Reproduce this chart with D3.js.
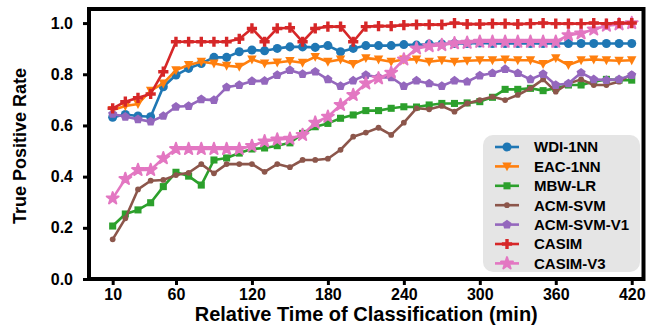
<!DOCTYPE html>
<html>
<head>
<meta charset="utf-8">
<script src="https://cdn.jsdelivr.net/npm/d3@7"></script>
<style>
  html, body { margin: 0; padding: 0; background: #fff; }
  svg { display: block; font-family: "Liberation Sans", Arial, sans-serif; }
</style>
</head>
<body>
<svg id="chart" width="649" height="331"></svg>
<script>
// Relative time of classification (minutes)
const times = d3.range(10, 421, 10);
const xTicks = [10, 60, 120, 180, 240, 300, 360, 420];
const yTicks = [0, 0.2, 0.4, 0.6, 0.8, 1.0];

const wdi1nn = [0.632, 0.643, 0.637, 0.634, 0.751, 0.797, 0.823, 0.842, 0.866, 0.866,
  0.888, 0.895, 0.892, 0.901, 0.907, 0.907, 0.905, 0.912, 0.888, 0.901,
  0.912, 0.912, 0.912, 0.916, 0.914, 0.918, 0.918, 0.920, 0.920, 0.922,
  0.920, 0.920, 0.920, 0.920, 0.920, 0.920, 0.920, 0.920, 0.920, 0.920, 0.920, 0.920];
const eac1nn = [0.660, 0.676, 0.684, 0.736, 0.764, 0.816, 0.836, 0.849, 0.842, 0.833,
  0.829, 0.858, 0.842, 0.846, 0.852, 0.845, 0.868, 0.849, 0.858, 0.840,
  0.863, 0.858, 0.849, 0.858, 0.858, 0.849, 0.855, 0.849, 0.853, 0.855,
  0.855, 0.858, 0.855, 0.855, 0.840, 0.863, 0.836, 0.855, 0.858, 0.855, 0.853, 0.855];
const mbwLr = [0.207, 0.254, 0.270, 0.298, 0.361, 0.417, 0.402, 0.367, 0.465, 0.473,
  0.492, 0.508, 0.512, 0.521, 0.532, 0.569, 0.595, 0.608, 0.628, 0.641,
  0.658, 0.658, 0.667, 0.673, 0.672, 0.680, 0.686, 0.686, 0.688, 0.693,
  0.710, 0.741, 0.741, 0.745, 0.736, 0.745, 0.758, 0.758, 0.771, 0.780, 0.777, 0.777];
const acmSvm = [0.155, 0.237, 0.350, 0.384, 0.387, 0.406, 0.415, 0.449, 0.413, 0.449,
  0.449, 0.449, 0.419, 0.449, 0.437, 0.465, 0.465, 0.470, 0.505, 0.556,
  0.572, 0.591, 0.563, 0.611, 0.667, 0.663, 0.676, 0.654, 0.686, 0.699,
  0.712, 0.699, 0.719, 0.745, 0.780, 0.732, 0.764, 0.780, 0.758, 0.758, 0.771, 0.801];
const acmSvmV1 = [0.645, 0.634, 0.624, 0.615, 0.637, 0.673, 0.676, 0.702, 0.699, 0.749,
  0.758, 0.773, 0.774, 0.797, 0.816, 0.801, 0.810, 0.780, 0.754, 0.775,
  0.797, 0.788, 0.788, 0.754, 0.775, 0.764, 0.754, 0.775, 0.771, 0.795,
  0.804, 0.820, 0.804, 0.780, 0.801, 0.758, 0.764, 0.806, 0.780, 0.777, 0.780, 0.797];
const casim = [0.667, 0.693, 0.708, 0.723, 0.810, 0.927, 0.927, 0.927, 0.927, 0.927,
  0.938, 0.979, 0.927, 0.979, 0.982, 0.927, 0.979, 0.986, 0.986, 0.927,
  0.986, 0.988, 0.988, 0.992, 0.994, 0.994, 0.994, 1.000, 0.996, 0.996,
  0.998, 0.998, 0.996, 0.998, 1.000, 0.998, 0.998, 0.998, 1.000, 0.998, 1.000, 1.000];
const casimV3 = [0.315, 0.391, 0.426, 0.426, 0.472, 0.508, 0.508, 0.508, 0.508, 0.508,
  0.508, 0.520, 0.538, 0.545, 0.548, 0.563, 0.611, 0.634, 0.680, 0.719,
  0.764, 0.784, 0.806, 0.858, 0.901, 0.910, 0.914, 0.921, 0.923, 0.927,
  0.927, 0.927, 0.927, 0.927, 0.927, 0.927, 0.953, 0.960, 0.975, 0.990, 0.995, 1.000];

const seriesNames = ["WDI-1NN", "EAC-1NN", "MBW-LR", "ACM-SVM", "ACM-SVM-V1", "CASIM", "CASIM-V3"];
const seriesValues = [wdi1nn, eac1nn, mbwLr, acmSvm, acmSvmV1, casim, casimV3];
const seriesColors = ["#1f77b4", "#ff7f0e", "#2ca02c", "#8c564b", "#9467bd", "#d62728", "#e377c2"];

// Custom marker shapes
const triangleDown = {
  draw(ctx, size) {
    const r = Math.sqrt(size) * 0.62;
    ctx.moveTo(-r * 0.95, -r * 0.8);
    ctx.lineTo(r * 0.95, -r * 0.8);
    ctx.lineTo(0, r * 1.0);
    ctx.closePath();
  }
};
const pentagon = {
  draw(ctx, size) {
    const r = Math.sqrt(size) * 0.6;
    for (let i = 0; i < 5; i++) {
      const a = -Math.PI / 2 + i * 2 * Math.PI / 5;
      const px = r * Math.cos(a), py = r * Math.sin(a);
      if (i === 0) ctx.moveTo(px, py); else ctx.lineTo(px, py);
    }
    ctx.closePath();
  }
};
const seriesSymbols = [
  d3.symbol(d3.symbolCircle, 64),
  d3.symbol(triangleDown, 64),
  d3.symbol(d3.symbolSquare, 50),
  d3.symbol(d3.symbolCircle, 26),
  d3.symbol(pentagon, 64),
  d3.symbol(d3.symbolCross, 58),
  d3.symbol(d3.symbolStar, 44)
];

const svg = d3.select("#chart");
const plot = { left: 89, right: 643.5, top: 9, bottom: 279 };

const x = d3.scaleLinear().domain([-8.7, 429.3]).range([plot.left, plot.right]);
const y = d3.scaleLinear().domain([0, 1.055]).range([plot.bottom, plot.top]);

// Series lines and markers (CASIM drawn last so it sits on top)
const drawOrder = [0, 1, 2, 3, 4, 6, 5];
const line = d3.line().x((d, i) => x(times[i])).y(d => y(d));
drawOrder.forEach(k => {
  const g = svg.append("g").attr("class", "series");
  g.append("path")
    .datum(seriesValues[k])
    .attr("d", line)
    .attr("fill", "none")
    .attr("stroke", seriesColors[k])
    .attr("stroke-width", 2.6)
    .attr("stroke-linejoin", "round");
  g.selectAll("path.marker")
    .data(seriesValues[k])
    .join("path")
    .attr("class", "marker")
    .attr("transform", (d, i) => `translate(${x(times[i])},${y(d)})`)
    .attr("d", seriesSymbols[k])
    .attr("fill", seriesColors[k])
    .attr("stroke", k === 6 ? seriesColors[k] : "none")
    .attr("stroke-width", 2)
    .attr("stroke-linejoin", "round");
});

// Axes
const xAxis = svg.append("g")
  .attr("transform", `translate(0,${plot.bottom})`)
  .call(d3.axisBottom(x).tickValues(xTicks).tickSize(6).tickPadding(4).tickSizeOuter(0));
const yAxis = svg.append("g")
  .attr("transform", `translate(${plot.left},0)`)
  .call(d3.axisLeft(y).tickValues(yTicks).tickFormat(d3.format(".1f")).tickSize(6).tickPadding(10).tickSizeOuter(0));

[xAxis, yAxis].forEach(ax => {
  ax.select(".domain").remove();
  ax.selectAll(".tick line").attr("stroke", "#000").attr("stroke-width", 3);
  ax.selectAll(".tick text")
    .attr("fill", "#000")
    .style("font-size", "16px")
    .style("font-weight", "bold")
    .style("font-family", "'Liberation Sans', Arial, sans-serif");
});

// Frame
svg.append("rect")
  .attr("x", plot.left).attr("y", plot.top)
  .attr("width", plot.right - plot.left).attr("height", plot.bottom - plot.top)
  .attr("fill", "none").attr("stroke", "#000").attr("stroke-width", 4);

// Axis titles
svg.append("text")
  .attr("x", (plot.left + plot.right) / 2).attr("y", 321)
  .attr("text-anchor", "middle")
  .style("font-size", "20px").style("font-weight", "bold")
  .text("Relative Time of Classification (min)");
svg.append("text")
  .attr("transform", `translate(26,${(plot.top + plot.bottom) / 2 + 2}) rotate(-90)`)
  .attr("text-anchor", "middle")
  .style("font-size", "18px").style("font-weight", "bold")
  .text("True Positive Rate");

// Legend
const legend = svg.append("g").attr("class", "legend");
legend.append("rect")
  .attr("x", 483).attr("y", 135).attr("width", 157).attr("height", 137)
  .attr("rx", 10).attr("ry", 10)
  .attr("fill", "#e5e5e5");
seriesNames.forEach((name, k) => {
  const ly = 147 + k * 19.4;
  legend.append("line")
    .attr("x1", 495).attr("x2", 519).attr("y1", ly).attr("y2", ly)
    .attr("stroke", seriesColors[k]).attr("stroke-width", 2.6);
  legend.append("path")
    .attr("transform", `translate(507,${ly})`)
    .attr("d", seriesSymbols[k])
    .attr("fill", seriesColors[k])
    .attr("stroke", k === 6 ? seriesColors[k] : "none")
    .attr("stroke-width", 2)
    .attr("stroke-linejoin", "round");
  legend.append("text")
    .attr("x", 534).attr("y", ly).attr("dy", "0.36em")
    .style("font-size", "15px").style("font-weight", "bold")
    .text(name);
});
</script>
</body>
</html>
